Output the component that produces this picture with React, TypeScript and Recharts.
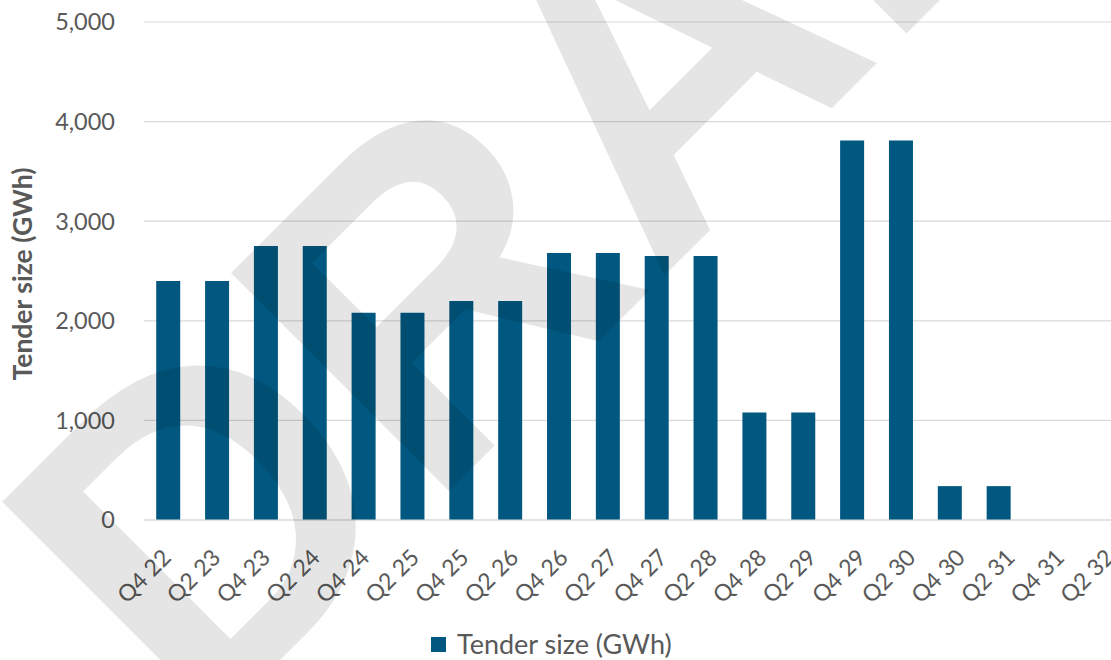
import React from 'react';
import { BarChart, Bar, XAxis, YAxis, CartesianGrid, Legend } from 'recharts';

const categories = ['Q4 22','Q2 23','Q4 23','Q2 24','Q4 24','Q2 25','Q4 25','Q2 26','Q4 26','Q2 27','Q4 27','Q2 28','Q4 28','Q2 29','Q4 29','Q2 30','Q4 30','Q2 31','Q4 31','Q2 32'];
const tenderSize = [2400,2400,2750,2750,2080,2080,2200,2200,2680,2680,2650,2650,1080,1080,3810,3810,340,340,0,0];
const yTicks = [0,1000,2000,3000,4000,5000];
const seriesName = 'Tender size (GWh)';
const yTitle = 'Tender size (GWh)';
const watermark = 'DRAFT';

const data = categories.map((c, i) => ({ cat: c, value: tenderSize[i] }));

const FONT = 'Lato, "Open Sans", sans-serif';
const TEXT = '#595959';
const BAR = '#005880';

const XTick = (props: any) => {
  const { x, y, payload, index } = props;
  const drift = (index ?? 0) * 0.78;
  return (
    <g transform={`translate(${x},${y})`}>
      <text
        x={0}
        y={0}
        textAnchor="end"
        fill={TEXT}
        fontFamily={FONT}
        fontSize={23}
        transform={`translate(${drift + 4},${39}) rotate(-45)`}
      >
        {payload.value}
      </text>
    </g>
  );
};

const YTitle = (props: any) => {
  const vb = props.viewBox || { x: 0, y: 0, width: 0, height: 0 };
  const cx = vb.x + 22;
  const cy = vb.y + vb.height / 2 + 3;
  return (
    <text
      x={cx}
      y={cy}
      transform={`rotate(-90 ${cx} ${cy})`}
      textAnchor="middle"
      dominantBaseline="central"
      fill={TEXT}
      fontFamily={FONT}
      fontWeight={700}
      fontSize={26.5}
    >
      {yTitle}
    </text>
  );
};

const LegendContent = () => (
  <div style={{ display: 'flex', alignItems: 'center', height: 24, fontFamily: FONT, fontSize: 27, color: TEXT, whiteSpace: 'nowrap' }}>
    <span style={{ display: 'inline-block', width: 15, height: 15, background: BAR, marginRight: 11 }} />
    <span style={{ lineHeight: '24px' }}>{seriesName}</span>
  </div>
);

export default function App() {
  return (
    <div style={{ position: 'absolute', left: 0, top: 0, width: 1111, height: 660, overflow: 'hidden', background: '#fff' }}>
      <BarChart width={1121} height={660} data={data} margin={{ top: 22, right: 0, left: 0, bottom: 0 }} barCategoryGap="25%">
        <CartesianGrid vertical={false} stroke="#d9d9d9" strokeWidth={1.2} />
        <XAxis
          dataKey="cat"
          interval={0}
          tickLine={false}
          tickSize={0}
          tickMargin={0}
          axisLine={{ stroke: '#d9d9d9', strokeWidth: 1.2 }}
          height={116}
          tick={<XTick />}
        />
        <YAxis
          domain={[0, 5000]}
          ticks={yTicks}
          width={144}
          axisLine={false}
          tickLine={false}
          tickSize={0}
          tickMargin={29}
          tickFormatter={(v: number) => v.toLocaleString('en-US')}
          tick={{ fill: TEXT, fontFamily: FONT, fontSize: 23.5 }}
          label={<YTitle />}
        />
        <Legend
          verticalAlign="bottom"
          content={<LegendContent />}
          wrapperStyle={{ position: 'absolute', left: 431, top: 632, width: 320, height: 24 }}
        />
        <Bar dataKey="value" name={seriesName} fill={BAR} isAnimationActive={false} />
      </BarChart>
      <svg width={1111} height={660} style={{ position: 'absolute', left: 0, top: 0, pointerEvents: 'none' }}>
        <text
          x={199}
          y={741}
          transform="rotate(-45 199 741)"
          fontFamily='"Liberation Sans", Arial, sans-serif'
          fontWeight={700}
          fontSize={448}
          fill="#000"
          fillOpacity={0.1}
        >
          {watermark}
        </text>
      </svg>
    </div>
  );
}
